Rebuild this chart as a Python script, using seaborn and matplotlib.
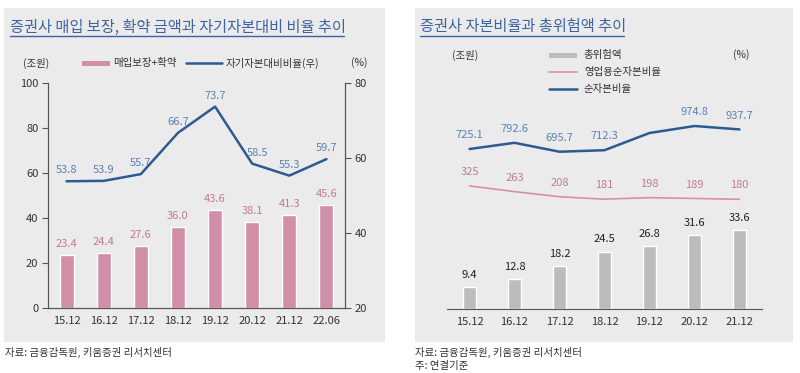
import numpy as np
import pandas as pd
import matplotlib.pyplot as plt
import seaborn as sns
from matplotlib.patches import Rectangle
from matplotlib.lines import Line2D

# 왼쪽 차트 데이터
left_periods = ['15.12', '16.12', '17.12', '18.12', '19.12', '20.12', '21.12', '22.06']
guarantee_amount = [23.4, 24.4, 27.6, 36.0, 43.6, 38.1, 41.3, 45.6]
equity_ratio = [53.8, 53.9, 55.7, 66.7, 73.7, 58.5, 55.3, 59.7]

# 오른쪽 차트 데이터
right_periods = ['15.12', '16.12', '17.12', '18.12', '19.12', '20.12', '21.12']
total_risk = [9.4, 12.8, 18.2, 24.5, 26.8, 31.6, 33.6]
op_net_capital_ratio = [325, 263, 208, 181, 198, 189, 180]
net_capital_ratio = [725.1, 792.6, 695.7, 712.3, 899.0, 974.8, 937.7]  # 19.12 값은 라벨 없음(추정)
net_capital_labels = ['725.1', '792.6', '695.7', '712.3', '', '974.8', '937.7']

W, H = 800, 373
PANEL = '#ebebeb'
TITLE_BLUE = '#3d64a0'
BAR_PINK = '#d08fa7'
LINE_BLUE = '#2d5a91'
LABEL_BLUE = '#5b82b3'
LABEL_PINK = '#c47a94'
BAR_GREY = '#bcbcbc'
LINE_PINK = '#d9909f'
TEXT = '#333333'

sns.set_theme(style='white')
plt.rcParams['font.family'] = ['Noto Sans CJK KR', 'DejaVu Sans']
plt.rcParams['axes.unicode_minus'] = False


def fx(px):
    return px / W


def fy(py):
    return 1 - py / H


def make_panel(fig, x0, y0, x1, y1):
    fig.patches.append(Rectangle((fx(x0), fy(y1)), fx(x1 - x0), (y1 - y0) / H,
                                 transform=fig.transFigure, facecolor=PANEL,
                                 edgecolor='none', zorder=-10))


def make_title(fig, text, x, y, x_end):
    fig.text(fx(x), fy(y), text, fontsize=11, color=TITLE_BLUE, va='center', ha='left')
    fig.lines.append(Line2D([fx(x), fx(x_end)], [fy(y + 9), fy(y + 9)],
                            transform=fig.transFigure, color=TITLE_BLUE, lw=1))


def boundary_ticks(ax, n):
    ax.set_xticks(np.arange(n), minor=False)
    ax.set_xticks(np.arange(n + 1) - 0.5, minor=True)
    ax.tick_params(axis='x', which='major', length=0, pad=6, labelsize=8, labelcolor=TEXT)


fig = plt.figure(figsize=(8, 3.73), dpi=100)
make_panel(fig, 4, 8, 385, 342)
make_panel(fig, 415, 8, 793, 342)

# ---------- 왼쪽 차트 ----------
ax1 = fig.add_axes([fx(48), fy(308), fx(297), 225 / H])
ax1.set_facecolor('none')
df_left = pd.DataFrame({'기간': left_periods, '금액': guarantee_amount})
sns.barplot(data=df_left, x='기간', y='금액', color=BAR_PINK, width=0.38,
            saturation=1, ax=ax1, zorder=2)
ax1.set_xlim(-0.5, len(left_periods) - 0.5)
ax1.set_ylim(0, 100)
ax1.set_yticks(range(0, 101, 20))
ax1.set_xlabel('')
ax1.set_ylabel('')
boundary_ticks(ax1, len(left_periods))
ax1.tick_params(axis='x', which='minor', direction='out', length=4, width=0.8, color='#555555')
ax1.tick_params(axis='y', direction='out', length=4, width=0.8, color='#555555',
                labelsize=8, labelcolor=TEXT, pad=3)
ax1.spines['top'].set_visible(False)
for s in ['left', 'right', 'bottom']:
    ax1.spines[s].set_color('#555555')
    ax1.spines[s].set_linewidth(0.8)
for i, v in enumerate(guarantee_amount):
    ax1.annotate(f'{v:.1f}', (i, v), xytext=(0, 8), textcoords='offset points',
                 ha='center', va='center', fontsize=8, color=LABEL_PINK)

ax1b = ax1.twinx()
sns.lineplot(x=np.arange(len(left_periods)), y=equity_ratio, color=LINE_BLUE,
             linewidth=1.8, ax=ax1b)
ax1b.set_ylim(20, 80)
ax1b.set_yticks([20, 40, 60, 80])
ax1b.tick_params(axis='y', direction='out', length=4, width=0.8, color='#555555',
                 labelsize=8, labelcolor=TEXT, pad=3)
ax1b.spines['top'].set_visible(False)
for s in ['left', 'right', 'bottom']:
    ax1b.spines[s].set_color('#555555')
    ax1b.spines[s].set_linewidth(0.8)
for i, v in enumerate(equity_ratio):
    dx = 4 if i == 5 else 0  # 20.12 라벨은 선을 피해 오른쪽으로
    ax1b.annotate(f'{v:.1f}', (i, v), xytext=(dx, 8), textcoords='offset points',
                  ha='center', va='center', fontsize=8, color=LABEL_BLUE)

make_title(fig, '증권사 매입 보장, 확약 금액과 자기자본대비 비율 추이', 10, 27, 344)
fig.text(fx(36), fy(63), '(조원)', fontsize=7.5, color=TEXT, ha='center', va='center')
fig.text(fx(359), fy(63), '(%)', fontsize=7.5, color=TEXT, ha='center', va='center')
fig.patches.append(Rectangle((fx(82), fy(66)), fx(28), 5 / H, transform=fig.transFigure,
                             facecolor=BAR_PINK, edgecolor='none'))
fig.text(fx(113), fy(63), '매입보장+확약', fontsize=7.5, color=TEXT, va='center')
fig.lines.append(Line2D([fx(186), fx(222)], [fy(63), fy(63)], transform=fig.transFigure,
                        color=LINE_BLUE, lw=1.8))
fig.text(fx(226), fy(63), '자기자본대비비율(우)', fontsize=7.5, color=TEXT, va='center')
fig.text(fx(5), fy(352), '자료: 금융감독원, 키움증권 리서치센터', fontsize=7.5, color=TEXT, va='center')

# ---------- 오른쪽 차트 ----------
ax2 = fig.add_axes([fx(447), fy(309), fx(315), 234 / H])
ax2.set_facecolor('none')
df_right = pd.DataFrame({'기간': right_periods, '총위험액': total_risk})
sns.barplot(data=df_right, x='기간', y='총위험액', color=BAR_GREY, width=0.31,
            saturation=1, ax=ax2, zorder=2)
ax2.set_xlim(-0.5, len(right_periods) - 0.5)
ax2.set_ylim(0, 100)
ax2.set_yticks([])
ax2.set_xlabel('')
ax2.set_ylabel('')
boundary_ticks(ax2, len(right_periods))
ax2.tick_params(axis='x', which='minor', direction='inout', length=5, width=0.8, color='#555555')
for s in ['top', 'left', 'right']:
    ax2.spines[s].set_visible(False)
ax2.spines['bottom'].set_color('#555555')
ax2.spines['bottom'].set_linewidth(0.8)
for i, v in enumerate(total_risk):
    ax2.annotate(f'{v:.1f}', (i, v), xytext=(0, 9), textcoords='offset points',
                 ha='center', va='center', fontsize=8, color='#222222')

ax2b = ax2.twinx()
xs = np.arange(len(right_periods))
sns.lineplot(x=xs, y=op_net_capital_ratio, color=LINE_PINK, linewidth=1.2, ax=ax2b)
sns.lineplot(x=xs, y=net_capital_ratio, color=LINE_BLUE, linewidth=1.8, ax=ax2b)
ax2b.set_ylim(-1010, 1528)
ax2b.set_yticks([])
for s in ['top', 'left', 'right', 'bottom']:
    ax2b.spines[s].set_visible(False)
for i, v in enumerate(op_net_capital_ratio):
    ax2b.annotate(f'{v}', (i, v), xytext=(0, 10), textcoords='offset points',
                  ha='center', va='center', fontsize=8, color=LABEL_PINK)
for i, (v, lab) in enumerate(zip(net_capital_ratio, net_capital_labels)):
    if lab:
        ax2b.annotate(lab, (i, v), xytext=(0, 10), textcoords='offset points',
                      ha='center', va='center', fontsize=8, color=LABEL_BLUE)

make_title(fig, '증권사 자본비율과 총위험액 추이', 420, 27, 624)
fig.text(fx(465), fy(55), '(조원)', fontsize=7.5, color=TEXT, ha='center', va='center')
fig.text(fx(741), fy(55), '(%)', fontsize=7.5, color=TEXT, ha='center', va='center')
fig.patches.append(Rectangle((fx(549), fy(58)), fx(28), 5 / H, transform=fig.transFigure,
                             facecolor=BAR_GREY, edgecolor='none'))
fig.text(fx(584), fy(55), '총위험액', fontsize=7.5, color=TEXT, va='center')
fig.lines.append(Line2D([fx(549), fx(577)], [fy(72), fy(72)], transform=fig.transFigure,
                        color=LINE_PINK, lw=1.2))
fig.text(fx(584), fy(72), '영업용순자본비율', fontsize=7.5, color=TEXT, va='center')
fig.lines.append(Line2D([fx(549), fx(577)], [fy(89), fy(89)], transform=fig.transFigure,
                        color=LINE_BLUE, lw=1.8))
fig.text(fx(584), fy(89), '순자본비율', fontsize=7.5, color=TEXT, va='center')
fig.text(fx(415), fy(352), '자료: 금융감독원, 키움증권 리서치센터', fontsize=7.5, color=TEXT, va='center')
fig.text(fx(415), fy(366), '주: 연결기준', fontsize=7.5, color=TEXT, va='center')

fig.savefig('out.png', dpi=100, facecolor='white')
